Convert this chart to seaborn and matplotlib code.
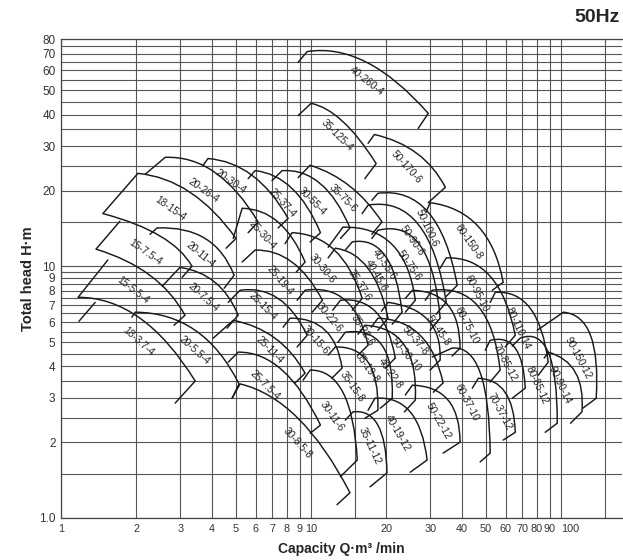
import numpy as np
import pandas as pd
import matplotlib
matplotlib.use("Agg")
import matplotlib.pyplot as plt
from matplotlib.path import Path
from matplotlib.patches import PathPatch
from matplotlib.ticker import NullFormatter
import seaborn as sns

# pump models (bore-kW-poles); points are (Q m3/min, H m)
names = [
    "40-260-4", "35-125-4", "50-170-6", "60-150-8", "18-15-4",
    "20-26-4", "20-30-4", "25-37-4", "30-55-4", "35-75-6",
    "15-7.5-4", "20-11-4", "25-30-4", "25-19-4", "30-30-6",
    "35-37-6", "40-45-6", "40-55-6", "50-100-6", "50-90-6",
    "50-75-6", "60-95-10", "60-75-10", "80-110-14", "90-150-12",
    "15-5.5-4", "20-7.5-4", "25-15-4", "30-22-6", "35-22-6",
    "50-45-8", "50-37-8", "70-85-12", "80-85-12", "90-90-14",
    "30-15-6", "50-30-10", "40-22-8", "35-19-8", "35-15-8",
    "60-37-10", "70-37-12", "18-3.7-4", "20-5.5-4", "25-11-4",
    "25-7.5-4", "30-11-6", "35-11-12", "40-19-12", "50-22-12", "30-8.5-8",
]

# lower end of the left (min flow) edge
left_bottom = [
    (8.87, 64.6), (8.87, 39.7), (16.9, 30.8), (28.8, 16.4), (1.47, 16.2),
    (2.17, 23.2), (3.70, 25.2), (5.60, 22.3), (6.98, 21.9), (8.87, 22.5),
    (1.38, 11.7), (2.27, 13.4), (4.88, 12.9), (5.30, 10.4), (7.87, 12.3),
    (11.7, 10.8), (13.7, 11.6), (11.7, 11.9), (17.5, 18.3), (16.0, 16.2),
    (17.5, 12.9), (32.8, 9.82), (28.6, 7.33), (52.0, 7.19), (80.2, 5.57),
    (1.17, 7.53), (2.54, 8.34), (4.66, 7.19), (8.79, 7.33), (12.2, 6.69),
    (23.8, 7.46), (19.1, 6.63), (49.7, 4.64), (63.7, 4.82), (85.5, 4.32),
    (7.73, 5.73), (17.4, 5.73), (15.4, 5.37), (12.8, 4.99), (11.7, 4.44),
    (30.5, 4.36), (44.1, 3.28), (1.18, 6.05), (1.92, 6.28), (4.06, 5.18),
    (4.66, 4.16), (9.29, 3.53), (13.7, 2.45), (16.9, 2.68), (23.8, 3.08), (4.83, 2.99),
]

# upper end of the left edge (also where the head curve starts)
left_top = [
    (9.64, 71.3), (10.0, 44.4), (17.9, 33.4), (29.9, 17.9), (2.03, 23.4),
    (2.61, 27.1), (3.87, 26.8), (5.97, 24.0), (7.66, 24.0), (9.91, 25.2),
    (1.72, 15.1), (2.42, 14.2), (5.30, 17.0), (5.97, 11.6), (8.39, 13.6),
    (12.5, 11.8), (14.6, 12.5), (13.4, 14.3), (18.5, 19.5), (16.9, 17.5),
    (18.5, 13.9), (34.7, 10.8), (30.5, 8.03), (54.5, 7.88), (102, 6.57),
    (1.54, 10.6), (2.99, 9.90), (5.20, 8.03), (9.46, 8.03), (13.1, 7.33),
    (25.4, 8.03), (20.3, 7.19), (52.0, 5.08), (68.5, 5.18), (88.7, 4.56),
    (8.24, 6.22), (18.5, 6.22), (16.4, 5.83), (13.7, 5.47), (12.5, 4.78),
    (36.6, 4.73), (46.6, 3.59), (1.37, 7.19), (1.98, 6.57), (4.88, 6.10),
    (5.11, 4.56), (9.91, 3.87), (14.7, 2.64), (18.0, 2.99), (25.4, 3.37), (5.20, 3.41),
]

# curves that start further left than their own left edge
arc_start_extra = {
    "15-7.5-4": (1.47, 16.2),
    "15-5.5-4": (1.38, 11.7),
    "18-3.7-4": (1.17, 7.53),
}

# a point half way along each head curve
arc_mid = [
    (16.7, 64.6), (13.4, 37.6), (26.5, 28.1), (46.6, 14.4), (3.28, 19.7),
    (4.13, 23.6), (5.81, 23.0), (8.39, 20.4), (10.9, 21.3), (14.3, 20.8),
    (2.49, 13.2), (3.77, 12.9), (7.38, 15.0), (8.39, 10.4), (12.4, 11.6),
    (16.9, 9.82), (19.8, 11.0), (21.1, 12.2), (29.4, 16.4), (26.8, 14.7),
    (27.3, 12.1), (52.0, 9.13), (46.6, 6.93), (75.2, 6.81), (131, 5.32),
    (2.27, 9.21), (4.13, 8.64), (7.38, 7.46), (13.7, 7.33), (18.2, 6.57),
    (35.3, 7.00), (29.4, 6.10), (65.5, 4.73), (88.7, 4.56), (114, 3.79),
    (11.4, 5.57), (27.3, 5.32), (23.6, 4.86), (19.2, 4.86), (16.9, 4.16),
    (47.4, 3.79), (59.7, 3.16), (2.07, 6.22), (3.44, 5.57), (7.18, 5.18),
    (7.66, 3.87), (13.4, 3.16), (18.5, 2.34), (24.9, 2.64), (35.3, 2.94), (8.87, 2.49),
]

# right tip of the head curve (max flow)
arc_end = [
    (29.4, 40.5), (18.2, 25.6), (34.4, 20.6), (58.6, 8.64), (5.01, 12.9),
    (6.14, 15.0), (8.09, 15.5), (10.9, 13.6), (14.3, 14.2), (19.2, 15.0),
    (3.34, 10.0), (4.92, 9.21), (9.46, 10.4), (11.1, 7.33), (16.0, 7.46),
    (20.3, 6.22), (23.1, 6.57), (26.1, 7.33), (38.4, 8.41), (34.7, 7.19),
    (32.8, 6.22), (65.5, 5.32), (57.0, 3.87), (88.7, 4.16), (138, 2.99),
    (3.13, 6.39), (5.11, 6.39), (9.64, 5.32), (16.9, 4.86), (21.7, 4.32),
    (39.4, 4.73), (32.8, 4.24), (71.8, 3.28), (96.4, 2.38), (121, 2.64),
    (13.3, 3.94), (33.7, 3.44), (26.1, 2.94), (21.1, 2.99), (18.5, 2.68),
    (52.0, 1.81), (65.5, 2.19), (3.44, 3.50), (5.15, 3.41), (9.46, 3.76),
    (10.9, 2.34), (15.3, 1.70), (20.1, 1.51), (29.1, 1.70), (39.4, 2.00), (14.3, 1.26),
]

# end of the short return line below the tip
tail_end = [
    (26.8, 35.3), (16.4, 22.3), (29.4, 17.9), (53.0, 8.03), (4.57, 11.8),
    (5.60, 13.6), (7.38, 14.2), (9.91, 12.5), (13.1, 12.9), (17.5, 13.4),
    (3.05, 9.04), (4.49, 8.18), (8.71, 9.47), (10.1, 6.57), (14.6, 6.69),
    (18.5, 5.57), (21.1, 5.89), (23.8, 6.57), (34.7, 7.60), (31.6, 6.45),
    (29.9, 5.57), (59.7, 4.78), (52.0, 3.47), (80.9, 3.69), (122, 2.73),
    (2.83, 5.83), (4.61, 5.68), (8.79, 4.78), (15.4, 4.44), (19.8, 3.94),
    (36.6, 4.40), (29.9, 3.87), (63.7, 2.99), (86.3, 2.19), (109, 2.38),
    (12.1, 3.59), (30.8, 3.16), (23.6, 2.64), (18.9, 2.73), (16.4, 2.49),
    (47.4, 1.67), (58.6, 2.04), (2.86, 2.86), (4.83, 2.99), (8.63, 3.44),
    (9.91, 2.17), (13.1, 1.46), (17.2, 1.33), (24.9, 1.52), (33.7, 1.81), (12.7, 1.13),
]

label_pos = [
    (16.6, 54.2), (12.7, 33.1), (24.0, 24.7), (42.5, 12.5), (2.73, 17.0),
    (3.70, 20.0), (4.74, 21.7), (7.66, 17.8), (10.1, 18.1), (13.4, 18.6),
    (2.17, 11.4), (3.60, 11.1), (6.37, 13.3), (7.52, 8.80), (11.1, 9.82),
    (15.6, 8.41), (18.2, 9.21), (19.6, 10.2), (29.1, 14.2), (25.4, 12.6),
    (24.7, 10.1), (45.7, 7.81), (41.7, 5.83), (67.3, 5.68), (117, 4.32),
    (1.94, 8.03), (3.70, 7.53), (6.43, 6.93), (11.8, 6.28), (16.0, 5.57),
    (32.2, 5.57), (26.1, 5.08), (59.7, 4.16), (80.2, 3.37), (99.1, 3.37),
    (10.4, 5.08), (24.0, 4.44), (20.7, 3.76), (16.7, 3.94), (14.6, 3.31),
    (41.7, 2.88), (57.0, 2.64), (2.03, 5.03), (3.40, 4.64), (6.85, 4.64),
    (6.55, 3.37), (12.1, 2.54), (17.2, 1.93), (22.1, 2.17), (32.2, 2.43), (8.79, 1.99),
]

label_angle = [
    38, 45, 48, 55, 35,
    35, 35, 48, 45, 45,
    35, 40, 48, 50, 50,
    58, 60, 55, 65, 55,
    55, 62, 62, 65, 62,
    38, 42, 45, 50, 58,
    55, 50, 62, 65, 65,
    48, 50, 55, 55, 55,
    62, 62, 42, 42, 45,
    45, 55, 65, 60, 60, 48,
]

x_ticks = [1, 2, 3, 4, 5, 6, 7, 8, 9, 10, 20, 30, 40, 50, 60, 70, 80, 90, 100]
x_extra_grid = [15, 150]
y_ticks = [1, 2, 3, 4, 5, 6, 7, 8, 9, 10, 20, 30, 40, 50, 60, 70, 80]
y_tick_labels = ["1.0", "2", "3", "4", "5", "6", "7", "8", "9", "10",
                 "20", "30", "40", "50", "60", "70", "80"]
y_extra_grid = [1.5, 2.5, 3.5, 4.5, 5.5, 6.5, 7.5, 8.5, 9.5,
                15, 25, 35, 45, 55, 65, 75]

for lst in (left_bottom, left_top, arc_mid, arc_end, tail_end, label_pos, label_angle):
    assert len(lst) == len(names)

sns.set_style("white")
plt.rcParams["font.family"] = ["Liberation Sans", "DejaVu Sans"]

fig = plt.figure(figsize=(6.23, 5.6), dpi=100)
ax = fig.add_axes([61 / 623, 42 / 560, 561 / 623, 479 / 560])
ax.set_xscale("log")
ax.set_yscale("log")
ax.set_xlim(1, 175)
ax.set_ylim(1, 80)

# left edges and return lines, drawn one segment per unit
rows = []
for i, nm in enumerate(names):
    for k, p in enumerate([left_bottom[i], left_top[i]]):
        rows.append({"seg": nm + "/L", "k": k, "q": p[0], "h": p[1]})
    for k, p in enumerate([arc_end[i], tail_end[i]]):
        rows.append({"seg": nm + "/T", "k": k, "q": p[0], "h": p[1]})
seg_df = pd.DataFrame(rows)
sns.lineplot(data=seg_df, x="q", y="h", units="seg", estimator=None, sort=False,
             color="#1a1a1a", lw=1.05, ax=ax)

# head curves as quadratic beziers in log space through start, mid, end
for i, nm in enumerate(names):
    a = np.log10(arc_start_extra.get(nm, left_top[i]))
    m = np.log10(arc_mid[i])
    e = np.log10(arc_end[i])
    c = 2 * m - (a + e) / 2
    verts = 10 ** np.array([a, c, e])
    path = Path(verts, [Path.MOVETO, Path.CURVE3, Path.CURVE3])
    ax.add_patch(PathPatch(path, fill=False, lw=1.05, ec="#1a1a1a", zorder=3))
    ax.text(label_pos[i][0], label_pos[i][1], nm, rotation=-label_angle[i],
            rotation_mode="anchor", ha="center", va="center",
            fontsize=7.3, color="#222222", zorder=4)

ax.set_xticks(x_ticks, [str(v) for v in x_ticks])
ax.set_xticks(x_extra_grid, minor=True)
ax.set_yticks(y_ticks, y_tick_labels)
ax.set_yticks(y_extra_grid, minor=True)
ax.xaxis.set_minor_formatter(NullFormatter())
ax.yaxis.set_minor_formatter(NullFormatter())
ax.tick_params(which="both", length=0, colors="#333333", pad=4)
ax.tick_params(axis="y", labelsize=8.5)
ax.tick_params(axis="x", labelsize=7.8)
# the last decade labels are crowded: start "100" at its grid line
for lbl in ax.get_xticklabels():
    if lbl.get_text() == "100":
        lbl.set_horizontalalignment("left")
ax.grid(which="both", color="#555555", lw=0.8)
ax.set_axisbelow(True)

for side in ["left", "bottom", "top"]:
    ax.spines[side].set_color("#444444")
    ax.spines[side].set_linewidth(0.9)
ax.spines["right"].set_visible(False)

ax.set_xlabel("Capacity Q·m³ /min", fontsize=10, fontweight="bold", labelpad=6)
ax.set_ylabel("Total head H·m", fontsize=10.5, fontweight="bold", labelpad=3)
fig.text(0.995, 0.968, "50Hz", ha="right", va="center", fontsize=14, fontweight="bold")

fig.savefig("out.png", dpi=100)
